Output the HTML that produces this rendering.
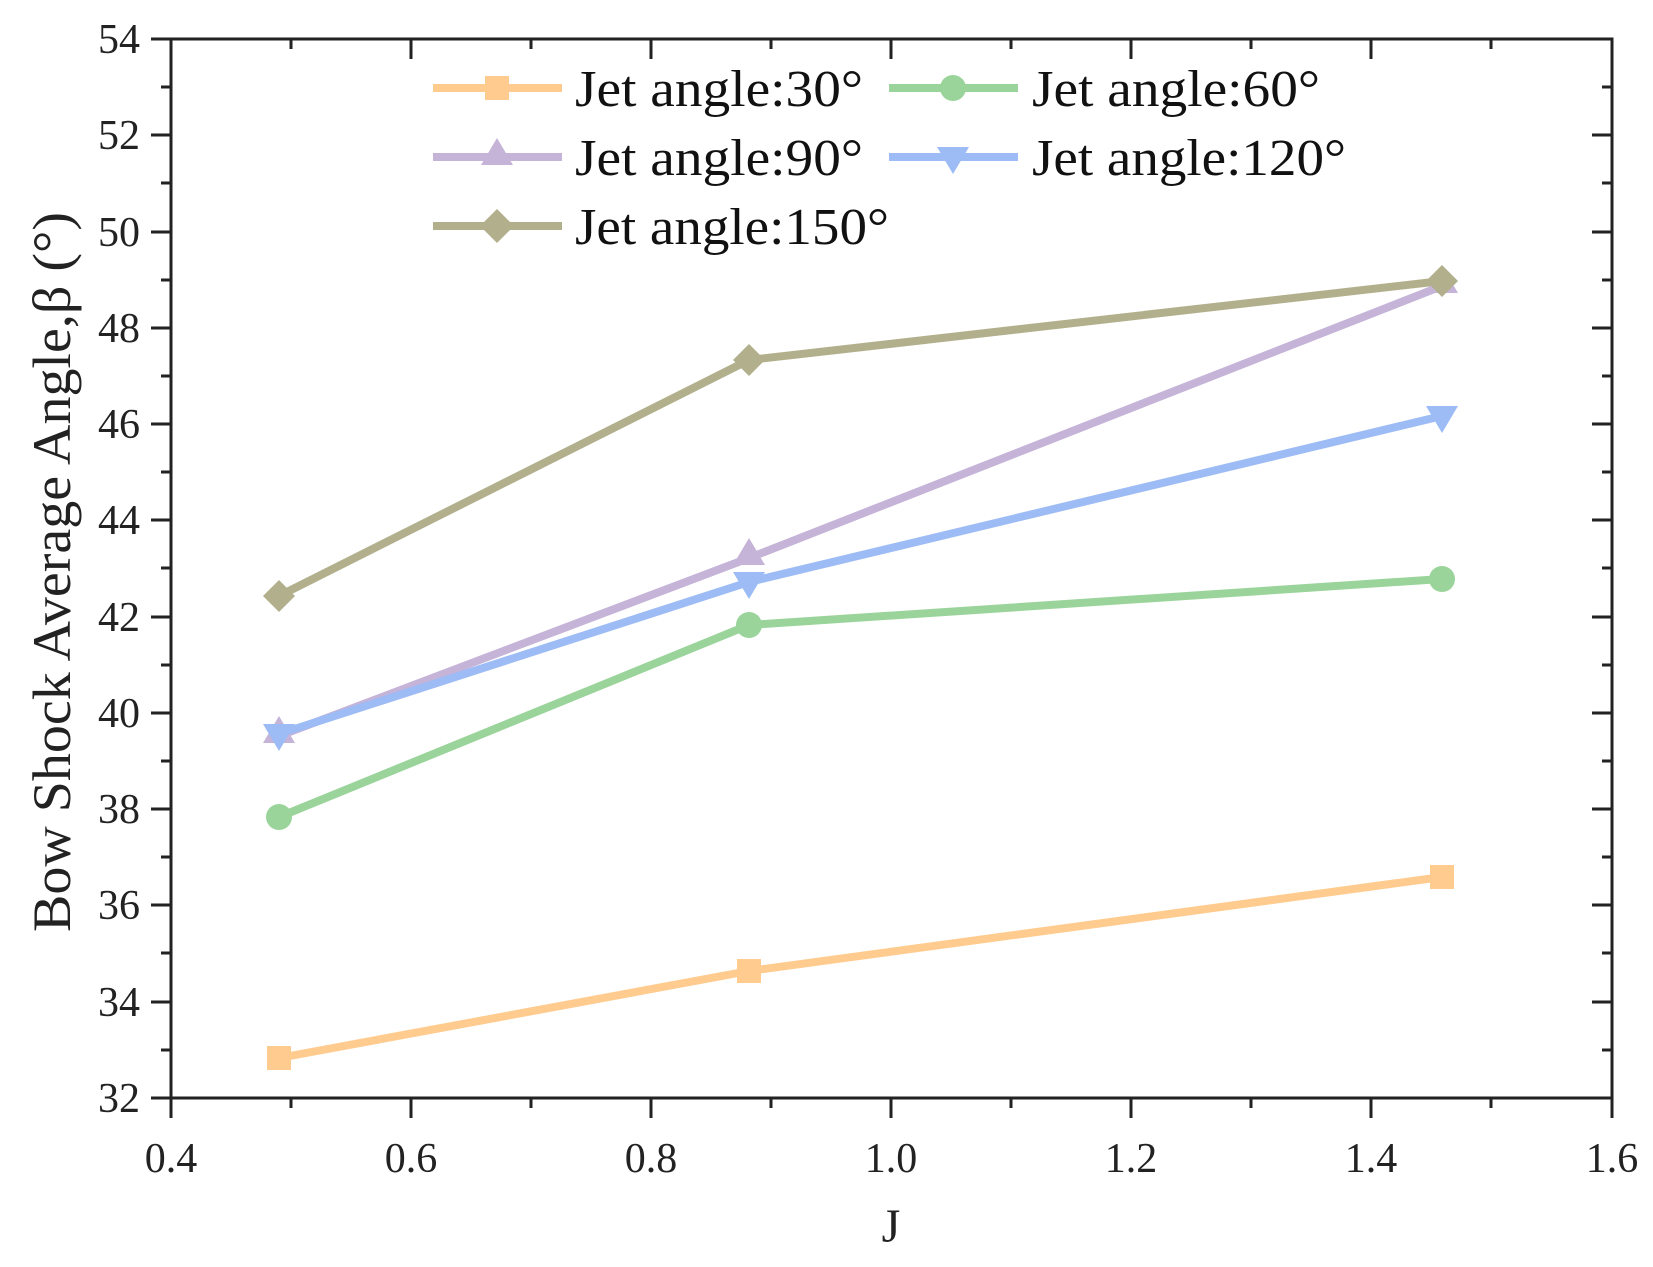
<!DOCTYPE html>
<html><head><meta charset="utf-8"><style>
html,body{margin:0;padding:0;background:#fff;}
svg{display:block;font-family:"Liberation Serif",serif;}
</style></head><body>
<svg width="1653" height="1267" viewBox="0 0 1653 1267" xmlns="http://www.w3.org/2000/svg">
<g stroke="#222" stroke-width="3" fill="none">
<rect x="171" y="39" width="1441" height="1059"/>
</g>
<g id="ticks" stroke="#222" stroke-width="3">
<line x1="151" y1="39" x2="171" y2="39"/><line x1="1592" y1="39" x2="1612" y2="39"/>
<line x1="161" y1="87" x2="171" y2="87"/><line x1="1602" y1="87" x2="1612" y2="87"/>
<line x1="151" y1="135" x2="171" y2="135"/><line x1="1592" y1="135" x2="1612" y2="135"/>
<line x1="161" y1="183" x2="171" y2="183"/><line x1="1602" y1="183" x2="1612" y2="183"/>
<line x1="151" y1="232" x2="171" y2="232"/><line x1="1592" y1="232" x2="1612" y2="232"/>
<line x1="161" y1="280" x2="171" y2="280"/><line x1="1602" y1="280" x2="1612" y2="280"/>
<line x1="151" y1="328" x2="171" y2="328"/><line x1="1592" y1="328" x2="1612" y2="328"/>
<line x1="161" y1="376" x2="171" y2="376"/><line x1="1602" y1="376" x2="1612" y2="376"/>
<line x1="151" y1="424" x2="171" y2="424"/><line x1="1592" y1="424" x2="1612" y2="424"/>
<line x1="161" y1="472" x2="171" y2="472"/><line x1="1602" y1="472" x2="1612" y2="472"/>
<line x1="151" y1="520" x2="171" y2="520"/><line x1="1592" y1="520" x2="1612" y2="520"/>
<line x1="161" y1="568" x2="171" y2="568"/><line x1="1602" y1="568" x2="1612" y2="568"/>
<line x1="151" y1="617" x2="171" y2="617"/><line x1="1592" y1="617" x2="1612" y2="617"/>
<line x1="161" y1="665" x2="171" y2="665"/><line x1="1602" y1="665" x2="1612" y2="665"/>
<line x1="151" y1="713" x2="171" y2="713"/><line x1="1592" y1="713" x2="1612" y2="713"/>
<line x1="161" y1="761" x2="171" y2="761"/><line x1="1602" y1="761" x2="1612" y2="761"/>
<line x1="151" y1="809" x2="171" y2="809"/><line x1="1592" y1="809" x2="1612" y2="809"/>
<line x1="161" y1="857" x2="171" y2="857"/><line x1="1602" y1="857" x2="1612" y2="857"/>
<line x1="151" y1="905" x2="171" y2="905"/><line x1="1592" y1="905" x2="1612" y2="905"/>
<line x1="161" y1="953" x2="171" y2="953"/><line x1="1602" y1="953" x2="1612" y2="953"/>
<line x1="151" y1="1002" x2="171" y2="1002"/><line x1="1592" y1="1002" x2="1612" y2="1002"/>
<line x1="161" y1="1050" x2="171" y2="1050"/><line x1="1602" y1="1050" x2="1612" y2="1050"/>
<line x1="151" y1="1098" x2="171" y2="1098"/><line x1="1592" y1="1098" x2="1612" y2="1098"/>
<line x1="171" y1="1098" x2="171" y2="1118"/>
<line x1="291" y1="1098" x2="291" y2="1108"/><line x1="291" y1="39" x2="291" y2="49"/>
<line x1="411" y1="1098" x2="411" y2="1118"/><line x1="411" y1="39" x2="411" y2="59"/>
<line x1="531" y1="1098" x2="531" y2="1108"/><line x1="531" y1="39" x2="531" y2="49"/>
<line x1="651" y1="1098" x2="651" y2="1118"/><line x1="651" y1="39" x2="651" y2="59"/>
<line x1="771" y1="1098" x2="771" y2="1108"/><line x1="771" y1="39" x2="771" y2="49"/>
<line x1="891" y1="1098" x2="891" y2="1118"/><line x1="891" y1="39" x2="891" y2="59"/>
<line x1="1011" y1="1098" x2="1011" y2="1108"/><line x1="1011" y1="39" x2="1011" y2="49"/>
<line x1="1131" y1="1098" x2="1131" y2="1118"/><line x1="1131" y1="39" x2="1131" y2="59"/>
<line x1="1251" y1="1098" x2="1251" y2="1108"/><line x1="1251" y1="39" x2="1251" y2="49"/>
<line x1="1371" y1="1098" x2="1371" y2="1118"/><line x1="1371" y1="39" x2="1371" y2="59"/>
<line x1="1491" y1="1098" x2="1491" y2="1108"/><line x1="1491" y1="39" x2="1491" y2="49"/>
<line x1="1612" y1="1098" x2="1612" y2="1118"/>
</g>
<g font-size="42" fill="#222" text-anchor="end">
<text x="140" y="53">54</text><text x="140" y="149">52</text><text x="140" y="246">50</text>
<text x="140" y="342">48</text><text x="140" y="438">46</text><text x="140" y="534">44</text>
<text x="140" y="631">42</text><text x="140" y="727">40</text><text x="140" y="823">38</text>
<text x="140" y="919">36</text><text x="140" y="1016">34</text><text x="140" y="1112">32</text>
</g>
<g font-size="42" fill="#222" text-anchor="middle">
<text x="171" y="1172">0.4</text><text x="411" y="1172">0.6</text><text x="651" y="1172">0.8</text>
<text x="891" y="1172">1.0</text><text x="1131" y="1172">1.2</text><text x="1371" y="1172">1.4</text>
<text x="1612" y="1172">1.6</text>
<text x="891" y="1242" font-size="48">J</text>
<text transform="translate(70,572) rotate(-90)" font-size="54" textLength="720" lengthAdjust="spacingAndGlyphs">Bow Shock Average Angle,β (°)</text>
</g>
<g fill="none" stroke-width="8" stroke-linejoin="round">
<polyline stroke="#FFCB8E" points="279,1058 749,971 1442,877"/>
<polyline stroke="#9AD49A" points="279,817 749,625 1442,579"/>
<polyline stroke="#C5B3D8" points="279,736 749,558 1442,286"/>
<polyline stroke="#9DBBF5" points="279,734 749,582 1442,416"/>
<polyline stroke="#B2B08C" points="279,596 749,360 1442,281"/>
</g>
<g fill="#FFCB8E"><rect x="267" y="1046" width="24" height="24"/><rect x="737" y="959" width="24" height="24"/><rect x="1430" y="865" width="24" height="24"/></g>
<g fill="#9AD49A"><circle cx="279" cy="817" r="13"/><circle cx="749" cy="625" r="13"/><circle cx="1442" cy="579" r="13"/></g>
<g fill="#C5B3D8"><polygon points="279,716 295,743 263,743"/><polygon points="749,538 765,565 733,565"/><polygon points="1442,266 1458,293 1426,293"/></g>
<g fill="#9DBBF5"><polygon points="279,751 295,724 263,724"/><polygon points="749,599 765,572 733,572"/><polygon points="1442,433 1458,406 1426,406"/></g>
<g fill="#B2B08C"><polygon points="279,580 295,596 279,612 263,596"/><polygon points="749,344 765,360 749,376 733,360"/><polygon points="1442,265 1458,281 1442,297 1426,281"/></g>
<g stroke-width="8">
<line x1="433" y1="88" x2="562" y2="88" stroke="#FFCB8E"/>
<line x1="433" y1="157" x2="562" y2="157" stroke="#C5B3D8"/>
<line x1="433" y1="226" x2="562" y2="226" stroke="#B2B08C"/>
<line x1="889" y1="88" x2="1018" y2="88" stroke="#9AD49A"/>
<line x1="889" y1="157" x2="1018" y2="157" stroke="#9DBBF5"/>
</g>
<rect x="485" y="76" width="24" height="24" fill="#FFCB8E"/>
<polygon points="497,138 513,165 481,165" fill="#C5B3D8"/>
<polygon points="497,209 514,226 497,243 480,226" fill="#B2B08C"/>
<circle cx="953" cy="88" r="13" fill="#9AD49A"/>
<polygon points="953,174 969,147 937,147" fill="#9DBBF5"/>
<g font-size="52" fill="#111">
<text x="575" y="106" textLength="288" lengthAdjust="spacingAndGlyphs">Jet angle:30°</text>
<text x="575" y="175" textLength="288" lengthAdjust="spacingAndGlyphs">Jet angle:90°</text>
<text x="575" y="244" textLength="314" lengthAdjust="spacingAndGlyphs">Jet angle:150°</text>
<text x="1032" y="106" textLength="288" lengthAdjust="spacingAndGlyphs">Jet angle:60°</text>
<text x="1032" y="175" textLength="314" lengthAdjust="spacingAndGlyphs">Jet angle:120°</text>
</g>
</svg>
</body></html>
